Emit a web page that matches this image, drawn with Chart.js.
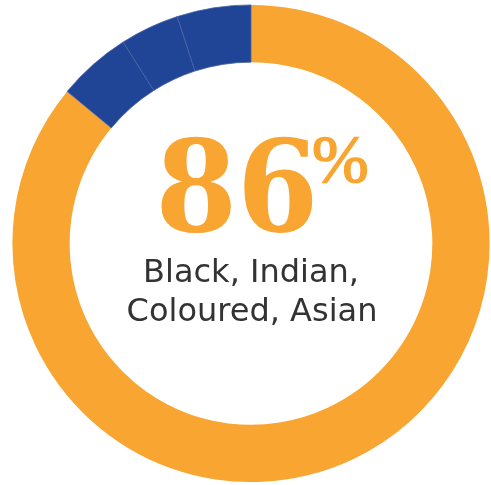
<!DOCTYPE html>
<html>
<head>
<meta charset="utf-8">
<title>86% Black, Indian, Coloured, Asian</title>
<script src="https://cdn.jsdelivr.net/npm/chart.js@4.4.1/dist/chart.umd.min.js"></script>
<style>
    html, body { margin: 0; padding: 0; background: #ffffff; }
    #wrap { width: 491px; height: 485px; position: relative; }
</style>
</head>
<body>
<div id="wrap"><canvas id="ringChart"></canvas></div>
<script>
// Ring segments, clockwise from 12 o'clock
const segmentLabels = ['Black, Indian, Coloured, Asian', 'Other A', 'Other B', 'Other C'];
const segmentValues = [86, 5, 4, 5];

// Centre caption
const headlineValue = segmentValues[0];
const captionLines = ['Black, Indian,', 'Coloured, Asian'];

const ORANGE = '#f8a532';
const BLUE = '#214596';

// draws the big number and the caption in the hole of the ring
const centerTextPlugin = {
    id: 'centerText',
    afterDraw(chart) {
        const arc = chart.getDatasetMeta(0).data[0];
        if (!arc) return;
        const cx = arc.x;
        const cy = arc.y;
        const ctx = chart.ctx;
        ctx.save();

        // "86" - fit the serif digits into the box seen on the reference
        ctx.fillStyle = ORANGE;
        ctx.font = 'bold 128px "DejaVu Serif"';
        ctx.textAlign = 'left';
        ctx.textBaseline = 'alphabetic';
        const num = String(headlineValue);
        const m = ctx.measureText(num);
        const inkW = m.actualBoundingBoxLeft + m.actualBoundingBoxRight;
        const sx = 152 / inkW;
        ctx.save();
        ctx.translate(cx - 14 - 76, cy - 12.5);
        ctx.scale(sx, 1);
        ctx.fillText(num, m.actualBoundingBoxLeft, 0);
        ctx.restore();

        // superscript percent sign, a little heavier than the regular cut
        ctx.font = '68px "Liberation Serif"';
        ctx.strokeStyle = ORANGE;
        ctx.lineWidth = 1.6;
        ctx.fillText('%', cx + 61, cy - 61.5);
        ctx.strokeText('%', cx + 61, cy - 61.5);

        // caption
        ctx.fillStyle = '#333333';
        ctx.font = '32px "DejaVu Sans"';
        ctx.textAlign = 'center';
        ctx.fillText(captionLines[0], cx, cy + 38.5);
        ctx.fillText(captionLines[1], cx + 1, cy + 77.5);

        ctx.restore();
    }
};

new Chart(document.getElementById('ringChart'), {
    type: 'doughnut',
    data: {
        labels: segmentLabels,
        datasets: [{
            data: segmentValues,
            backgroundColor: [ORANGE, BLUE, BLUE, BLUE],
            borderColor: [ORANGE, '#4763a6', '#4763a6', '#4763a6'],
            borderWidth: [0, 0.8, 0.8, 0.8],
            hoverOffset: 0
        }]
    },
    options: {
        responsive: true,
        maintainAspectRatio: false,
        animation: false,
        cutout: '76%',
        rotation: 0,
        layout: {
            padding: { left: 12, right: 1, top: 4, bottom: 2 }
        },
        plugins: {
            legend: { display: false },
            tooltip: { enabled: false },
            title: { display: false }
        }
    },
    plugins: [centerTextPlugin]
});
</script>
</body>
</html>
